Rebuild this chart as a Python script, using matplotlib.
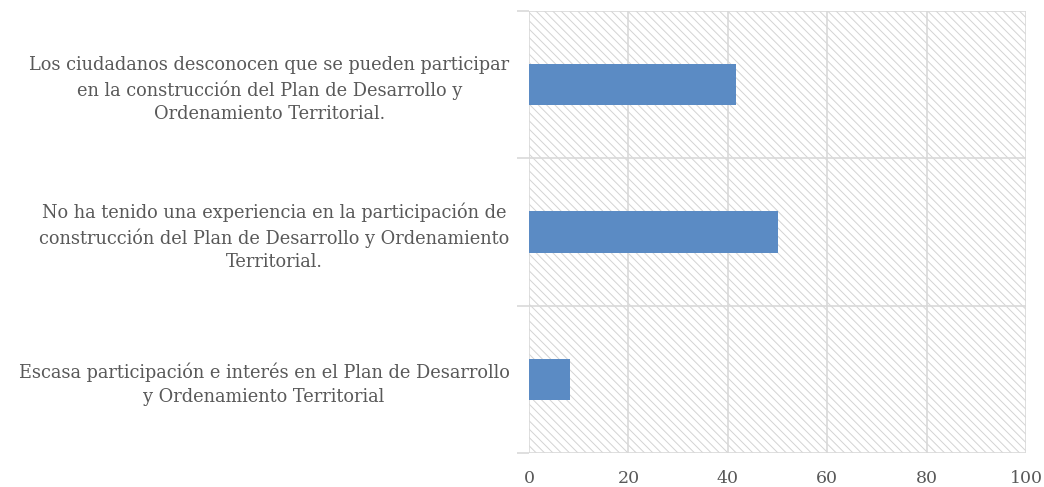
import matplotlib
matplotlib.use("Agg")
import matplotlib.pyplot as plt
from matplotlib.patches import Rectangle
import numpy as np

categories = [
    "Escasa participación e interés en el Plan de Desarrollo\ny Ordenamiento Territorial",
    "No ha tenido una experiencia en la participación de\nconstrucción del Plan de Desarrollo y Ordenamiento\nTerritorial.",
    "Los ciudadanos desconocen que se pueden participar\nen la construcción del Plan de Desarrollo y\nOrdenamiento Territorial.",
]
values = [8.33, 50.0, 41.67]
xticks = [0, 20, 40, 60, 80, 100]

text_color = "#595959"
grid_color = "#d9d9d9"
bar_color = "#5b8bc4"

plt.rcParams["hatch.linewidth"] = 0.7
plt.rcParams["font.family"] = ["DejaVu Serif"]

fig = plt.figure(figsize=(10.44, 4.87), dpi=100)
ax = fig.add_axes([529 / 1044, 1 - 453 / 487, (1026 - 529) / 1044, (453 - 11) / 487])

# hatched background
bg = Rectangle((0, 0), 1, 1, transform=ax.transAxes, facecolor="white",
               edgecolor="#d3d3d3", hatch="\\\\\\\\", linewidth=0, zorder=0)
ax.add_patch(bg)

pos = np.arange(len(categories)) + 0.5
ax.barh(pos, values, height=0.28, color=bar_color, zorder=3)

ax.set_xlim(0, 100)
ax.set_ylim(0, 3)
ax.set_xticks(xticks)
ax.set_xticklabels([str(t) for t in xticks])

ax.set_yticks([0, 1, 2, 3])
ax.set_yticklabels([])
ax.set_yticks(pos, minor=True)
labels = ax.set_yticklabels(categories, minor=True, multialignment="center")
for lb in labels:
    lb.set_linespacing(1.4)
    lb.set_y(lb.get_position()[1])

ax.tick_params(axis="y", which="major", length=9, color=grid_color, width=1.2)
ax.tick_params(axis="y", which="minor", length=0, pad=14, labelsize=12.8, labelcolor=text_color)
ax.tick_params(axis="x", which="major", length=0, pad=12, labelsize=12.5, labelcolor=text_color)

ax.grid(True, axis="x", color=grid_color, linewidth=1.2, zorder=1)
ax.grid(True, axis="y", which="major", color=grid_color, linewidth=1.2, zorder=1)
ax.set_axisbelow(True)

for s in ["left", "bottom", "top", "right"]:
    ax.spines[s].set_visible(False)

fig.savefig("out.png", dpi=100)
